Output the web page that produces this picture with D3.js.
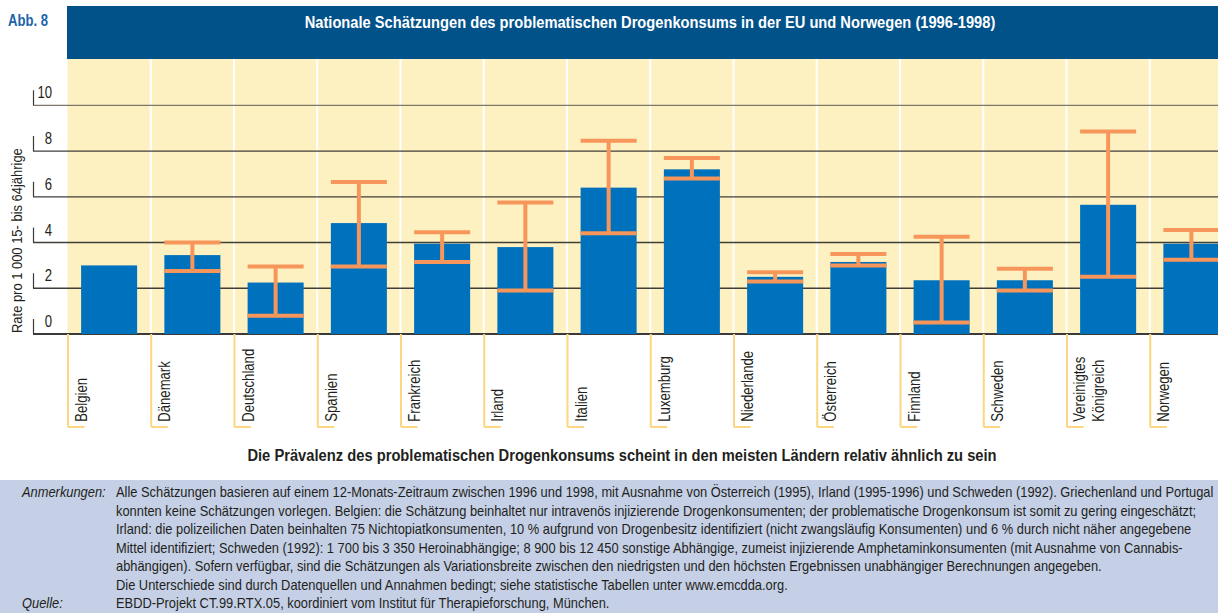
<!DOCTYPE html>
<html>
<head>
<meta charset="utf-8">
<script src="https://cdn.jsdelivr.net/npm/d3@7"></script>
<style>
  html, body { margin: 0; padding: 0; background: #fff; }
  svg { display: block; }
  text { font-family: "Liberation Sans", Arial, sans-serif; fill: #231f20; }
</style>
</head>
<body>
<div id="chart"></div>
<script>
// Länder (Kategorien)
const countries = ["Belgien", "Dänemark", "Deutschland", "Spanien", "Frankreich", "Irland", "Italien",
  "Luxemburg", "Niederlande", "Österreich", "Finnland", "Schweden", "Vereinigtes Königreich", "Norwegen"];
// Rate pro 1 000 15- bis 64jährige (Mittelwert)
const values = [3.0, 3.45, 2.25, 4.85, 3.95, 3.8, 6.4, 7.2, 2.5, 3.15, 2.35, 2.35, 5.65, 3.95];
// Variationsbreite: niedrigste / höchste Schätzung
const lows  = [null, 2.75, 0.8, 2.95, 3.15, 1.9, 4.4, 6.8, 2.3, 3.0, 0.5, 1.9, 2.5, 3.25];
const highs = [null, 4.0, 2.95, 6.65, 4.45, 5.75, 8.45, 7.7, 2.7, 3.5, 4.25, 2.85, 8.85, 4.55];
const yTicks = [0, 2, 4, 6, 8, 10];

const title = "Nationale Schätzungen des problematischen Drogenkonsums in der EU und Norwegen (1996-1998)";
const subtitle = "Die Prävalenz des problematischen Drogenkonsums scheint in den meisten Ländern relativ ähnlich zu sein";
const yLabel = "Rate pro 1 000 15- bis 64jährige";
const notes = [
  "Alle Schätzungen basieren auf einem 12-Monats-Zeitraum zwischen 1996 und 1998, mit Ausnahme von Österreich (1995), Irland (1995-1996) und Schweden (1992).  Griechenland und Portugal",
  "konnten keine Schätzungen vorlegen. Belgien: die Schätzung beinhaltet nur intravenös injizierende Drogenkonsumenten; der problematische Drogenkonsum ist somit zu gering eingeschätzt;",
  "Irland: die polizeilichen Daten beinhalten 75 Nichtopiatkonsumenten, 10 % aufgrund von Drogenbesitz identifiziert (nicht zwangsläufig Konsumenten) und 6 % durch nicht näher angegebene",
  "Mittel identifiziert; Schweden (1992): 1 700 bis 3 350 Heroinabhängige; 8 900 bis 12 450 sonstige Abhängige, zumeist injizierende Amphetaminkonsumenten (mit Ausnahme von Cannabis-",
  "abhängigen). Sofern verfügbar, sind die Schätzungen als Variationsbreite zwischen den niedrigsten und den höchsten Ergebnissen unabhängiger Berechnungen angegeben.",
  "Die Unterschiede sind durch Datenquellen und Annahmen bedingt; siehe statistische Tabellen unter www.emcdda.org."
];
const source = "EBDD-Projekt CT.99.RTX.05, koordiniert vom Institut für Therapieforschung, München.";

const W = 1218, H = 613;
const plotTop = 59, plotBottom = 334, plotLeft = 67.5;
const step = 83.25;
const NARROW = 0.82;   // schmale Schrift nachbilden

const svg = d3.select("#chart").append("svg")
  .attr("width", W).attr("height", H);

// Text mit horizontaler Stauchung (Condensed-Optik)
function ntext(parent, o) {
  const t = parent.append("text")
    .attr("text-anchor", o.anchor || "start")
    .style("font-size", o.size + "px")
    .text(o.text);
  if (o.weight) t.style("font-weight", o.weight);
  if (o.italic) t.style("font-style", "italic");
  if (o.fill) t.style("fill", o.fill);
  let sx = o.sx || NARROW;
  if (o.fitW) sx = o.fitW / t.node().getComputedTextLength();
  t.attr("transform", `translate(${o.x},${o.y}) rotate(${o.rot || 0}) scale(${sx},1)`);
  return t;
}

const x = d3.scaleBand()
  .domain(countries)
  .range([plotLeft, plotLeft + step * countries.length])
  .paddingInner(0.327)
  .paddingOuter(0.1635);

const y = d3.scaleLinear().domain([0, 10]).range([plotBottom, 105.3]);

// Kopfzeile
svg.append("rect").attr("x", 67).attr("y", 6).attr("width", W - 67).attr("height", 53).attr("fill", "#02528a");
ntext(svg, { x: 8, y: 25.7, size: 16, weight: "bold", fill: "#1c64ad", text: "Abb. 8", fitW: 40 });
ntext(svg, { x: 650, y: 27.5, size: 16.5, weight: "bold", fill: "#fff", anchor: "middle", text: title, fitW: 691 });

// gelber Hintergrund
svg.append("rect").attr("x", plotLeft).attr("y", plotTop).attr("width", W - plotLeft)
  .attr("height", plotBottom - plotTop).attr("fill", "#fef1c1");

// weisse Spaltentrenner
const bounds = countries.map((c, i) => plotLeft + i * step);
svg.append("g").selectAll("line").data(bounds.slice(1)).join("line")
  .attr("x1", d => d).attr("x2", d => d).attr("y1", plotTop).attr("y2", plotBottom)
  .attr("stroke", "#fff").attr("stroke-width", 2);

// Gitterlinien
const grid = svg.append("g");
grid.selectAll("line.h").data(yTicks).join("line").attr("class", "h")
  .attr("x1", 33).attr("x2", W).attr("y1", d => y(d)).attr("y2", d => y(d))
  .attr("stroke", d => d === 0 ? "#3a3a3a" : d === 10 ? "#7d776a" : "#3f3f3a")
  .attr("stroke-width", d => d === 0 ? 2 : 1.3);
grid.selectAll("line.v").data(yTicks).join("line").attr("class", "v")
  .attr("x1", 33.5).attr("x2", 33.5).attr("y1", d => y(d) - 15).attr("y2", d => y(d))
  .attr("stroke", "#3a3a3a").attr("stroke-width", 1.2);
yTicks.forEach(v => ntext(grid, { x: 52, y: y(v) - 7, size: 16, anchor: "end", text: v }));

// Achsentitel
ntext(svg, { x: 22, y: 333, rot: -90, size: 14, text: yLabel, fitW: 185 });

// Balken
svg.append("g").selectAll("rect").data(countries).join("rect")
  .attr("x", d => x(d)).attr("width", x.bandwidth())
  .attr("y", (d, i) => y(values[i])).attr("height", (d, i) => y(0) - y(values[i]))
  .attr("fill", "#0071bc");

// Fehlerbalken
const orange = "#f7965a";
const eb = svg.append("g").selectAll("g")
  .data(countries.map((c, i) => ({ c, lo: lows[i], hi: highs[i] })).filter(d => d.lo != null))
  .join("g");
eb.append("line")
  .attr("x1", d => x(d.c) + x.bandwidth() / 2).attr("x2", d => x(d.c) + x.bandwidth() / 2)
  .attr("y1", d => y(d.lo)).attr("y2", d => y(d.hi))
  .attr("stroke", orange).attr("stroke-width", 4);
eb.selectAll("line.cap").data(d => [d.lo, d.hi].map(v => ({ c: d.c, v }))).join("line").attr("class", "cap")
  .attr("x1", d => x(d.c)).attr("x2", d => x(d.c) + x.bandwidth())
  .attr("y1", d => y(d.v)).attr("y2", d => y(d.v))
  .attr("stroke", orange).attr("stroke-width", 4);

// Kategorie-Beschriftung mit gelben Haken
const lab = svg.append("g").selectAll("g").data(countries).join("g")
  .attr("transform", (d, i) => `translate(${bounds[i]},0)`);
lab.append("path")
  .attr("d", "M0.5," + plotBottom + "V427M0.5,427H17")
  .attr("fill", "none").attr("stroke", "#fcd680").attr("stroke-width", 2);
lab.each(function (d) {
  const parts = d === "Vereinigtes Königreich" ? ["Vereinigtes", "Königreich"] : [d];
  const g = d3.select(this);
  parts.forEach((p, j) => {
    ntext(g, { x: parts.length > 1 ? 18.5 + j * 19 : 19.6, y: 421.7, rot: -90, size: 16, text: p });
  });
});

// Untertitel
ntext(svg, { x: 622, y: 460.7, size: 17, weight: "bold", anchor: "middle", text: subtitle, fitW: 750 });

// Anmerkungen
svg.append("rect").attr("x", 0).attr("y", 480).attr("width", W).attr("height", H - 480).attr("fill", "#c5d0e6");
const lh = 18.5, first = 497;
const n0 = ntext(svg, { x: 116, y: first, size: 14, text: notes[0], fitW: 1098 });
const sxNotes = +n0.attr("transform").match(/scale\(([^,]+),/)[1];
notes.slice(1).concat([source]).forEach((s, i) =>
  ntext(svg, { x: 116, y: first + (i + 1) * lh, size: 14, text: s, sx: sxNotes }));
ntext(svg, { x: 22, y: first, size: 14, italic: true, text: "Anmerkungen:", sx: sxNotes });
ntext(svg, { x: 22, y: first + lh * notes.length, size: 14, italic: true, text: "Quelle:", sx: sxNotes });
</script>
</body>
</html>
